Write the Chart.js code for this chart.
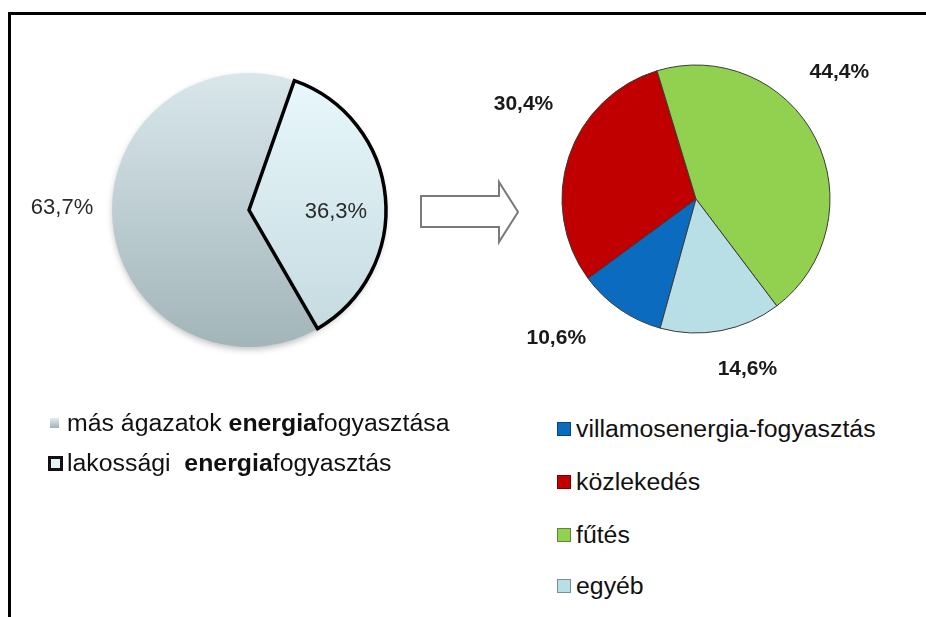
<!DOCTYPE html>
<html lang="hu">
<head>
<meta charset="UTF-8">
<title>Lakossági energiafogyasztás</title>
<script src="https://cdn.jsdelivr.net/npm/chart.js"></script>
<style>
  body { margin: 0; width: 926px; height: 617px; background: #fff; overflow: hidden; position: relative;
         font-family: "Liberation Sans", Arial, sans-serif; }
  .frame { position: absolute; left: 8px; top: 12px; width: 940px; height: 640px;
           border-top: 3px solid #000; border-left: 3px solid #000; }
  #leftWrap { position: absolute; left: 9px; top: 10px; width: 480px; height: 400px; }
  #rightWrap { position: absolute; left: 476px; top: 9px; width: 440px; height: 380px; }
  #arrow { position: absolute; left: 0; top: 0; }
  .item { position: absolute; display: flex; align-items: center; height: 30px; white-space: nowrap; }
  .item .box { box-sizing: border-box; }
  .item .txt { display: inline-block; font-size: 23px; color: #111; transform: scaleX(1.08); transform-origin: 0 50%; }
</style>
</head>
<body>
<div class="frame"></div>
<svg id="arrow" width="926" height="617">
  <polygon points="421,196 499,196 499,182 518,212 499,242 499,227 421,227"
           fill="#fff" stroke="#7a7a7a" stroke-width="2" stroke-linejoin="miter"/>
</svg>
<div id="leftWrap"><canvas id="leftPie"></canvas></div>
<div id="rightWrap"><canvas id="rightPie"></canvas></div>
<div id="legends"></div>

<script>
// adatok
const leftLabels = ['más ágazatok energiafogyasztása', 'lakossági energiafogyasztás'];
const leftValues = [63.7, 36.3];
const leftTop = ['#d9e7eb', '#e9f8fc'];
const leftBottom = ['#a2b5b9', '#c3d9de'];

const rightLabels = ['villamosenergia-fogyasztás', 'közlekedés', 'fűtés', 'egyéb'];
const rightValues = [10.6, 30.4, 44.4, 14.6];
const rightColors = ['#0b6cbf', '#c00000', '#92d050', '#b8dee6'];

// százalék feliratok a szeletek mellé
const pctLabels = {
  id: 'pctLabels',
  beforeDatasetsDraw(chart, args, opts) {
    if (!opts.shadow) return;
    const arc = chart.getDatasetMeta(0).data[0];
    const p = arc.getProps(['x', 'y', 'outerRadius'], true);
    const ctx = chart.ctx;
    ctx.save();
    ctx.shadowColor = 'rgba(0,0,0,0.28)';
    ctx.shadowBlur = 7;
    ctx.shadowOffsetY = 3;
    ctx.beginPath();
    ctx.arc(p.x, p.y, p.outerRadius - 1, 0, Math.PI * 2);
    ctx.fillStyle = '#b8c8cc';
    ctx.fill();
    ctx.restore();
  },
  afterDatasetsDraw(chart, args, opts) {
    const ctx = chart.ctx;
    const meta = chart.getDatasetMeta(0);
    const values = chart.data.datasets[0].data;
    ctx.save();
    ctx.font = opts.font;
    ctx.fillStyle = opts.color;
    ctx.textAlign = 'center';
    ctx.textBaseline = 'middle';
    meta.data.forEach((arc, i) => {
      const p = arc.getProps(['x', 'y', 'startAngle', 'endAngle', 'outerRadius'], true);
      const a = (p.startAngle + p.endAngle) / 2 + opts.shift[i] * Math.PI / 180;
      const r = p.outerRadius * opts.dist[i];
      const txt = values[i].toFixed(1).replace('.', ',') + '%';
      ctx.fillText(txt, p.x + Math.cos(a) * r, p.y + Math.sin(a) * r);
    });
    ctx.restore();
  }
};

function leftFill(c) {
  const area = c.chart.chartArea;
  if (!area) return leftTop[c.dataIndex];
  const cy = (area.top + area.bottom) / 2;
  const g = c.chart.ctx.createLinearGradient(0, cy - 137, 0, cy + 137);
  g.addColorStop(0, leftTop[c.dataIndex]);
  g.addColorStop(1, leftBottom[c.dataIndex]);
  return g;
}

new Chart(document.getElementById('leftPie'), {
  type: 'pie',
  data: {
    labels: leftLabels,
    datasets: [{
      data: leftValues,
      backgroundColor: leftFill,
      borderColor: '#000',
      borderWidth: [0, 3.5],
      borderJoinStyle: 'miter',
      radius: 137
    }]
  },
  options: {
    responsive: true,
    maintainAspectRatio: false,
    animation: false,
    events: [],
    rotation: 150,
    plugins: {
      legend: { display: false },
      tooltip: { enabled: false },
      pctLabels: { font: '22px "Liberation Sans", Arial, sans-serif', color: '#2a2a2a',
                   dist: [1.365, 0.635], shift: [6, 6.6], shadow: true }
    }
  },
  plugins: [pctLabels]
});

new Chart(document.getElementById('rightPie'), {
  type: 'pie',
  data: {
    labels: rightLabels,
    datasets: [{
      data: rightValues,
      backgroundColor: rightColors,
      borderColor: '#3a3a3a',
      borderWidth: 1,
      radius: 134
    }]
  },
  options: {
    responsive: true,
    maintainAspectRatio: false,
    animation: false,
    events: [],
    rotation: 195.5,
    plugins: {
      legend: { display: false },
      tooltip: { enabled: false },
      pctLabels: { font: 'bold 21px "Liberation Sans", Arial, sans-serif', color: '#1a1a1a',
                   dist: [1.47, 1.47, 1.43, 1.33], shift: [10.6, 10.5, -14.6, -6], shadow: false }
    }
  },
  plugins: [pctLabels]
});

// jelmagyarázatok
const legendBox = document.getElementById('legends');
function addItem(x, y, gap, boxCss, html) {
  const d = document.createElement('div');
  d.className = 'item';
  d.style.left = x + 'px';
  d.style.top = (y - 15) + 'px';
  d.innerHTML = '<span class="box" style="margin-right:' + gap + 'px;' + boxCss + '"></span><span class="txt">' + html + '</span>';
  legendBox.appendChild(d);
}
function boldEnergia(s) { return s.replace('energia', '<b>energia</b>').replace('lakossági ', 'lakossági&nbsp; '); }

const leftLegendY = [423, 463];
addItem(50, leftLegendY[0], 8, 'width:9px;height:10px;background:linear-gradient(#e2eef1,#9fb2b6);', boldEnergia(leftLabels[0]));
addItem(48, leftLegendY[1], 4, 'width:15px;height:15px;border:3px solid #111;background:#e4f3f6;', boldEnergia(leftLabels[1]));

const rightLegendY = [429, 482, 535, 586];
rightLabels.forEach((lab, i) => {
  addItem(557, rightLegendY[i], 5, 'width:14px;height:14px;border:1px solid rgba(0,0,0,0.35);background:' + rightColors[i] + ';', lab);
});
</script>
</body>
</html>
